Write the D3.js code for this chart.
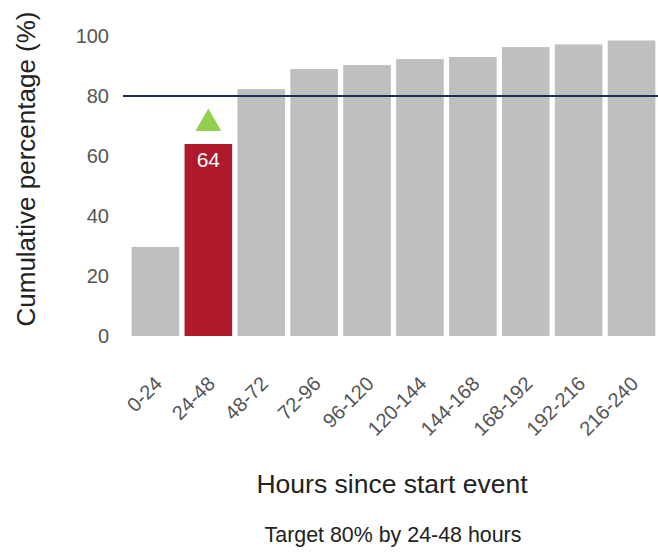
<!DOCTYPE html>
<html>
<head>
<meta charset="utf-8">
<script src="https://cdn.jsdelivr.net/npm/d3@7"></script>
<style>
body{margin:0;background:#fff;font-family:"Liberation Sans",Arial,sans-serif;}
</style>
</head>
<body>
<div id="chart"></div>
<script>
var categories = ["0-24","24-48","48-72","72-96","96-120","120-144","144-168","168-192","192-216","216-240"];
var values = [29.7,64,82.3,89,90.3,92.3,93,96.3,97.2,98.5];
var yTicks = [0,20,40,60,80,100];
var target = 80;
var targetCategory = "24-48";
var footerText = "Target 80% by 24-48 hours";

var width = 658, height = 558;
var svg = d3.select("#chart")
    .append("svg")
    .attr("width",width)
    .attr("height",height);

var xScale = d3.scaleBand()
    .domain(categories)
    .range([129,658])
    .paddingInner(0.1)
    .paddingOuter(0.05);

var yScale = d3.scaleLinear()
    .domain([0,100])
    .range([336,36]);

// y axis, labels only
var yAxis = d3.axisLeft(yScale).tickValues(yTicks).tickSize(0).tickPadding(0);
var gy = svg.append("g")
    .attr("transform","translate(109,0)")
    .call(yAxis);
gy.select(".domain").remove();
gy.selectAll("text")
    .attr("fill","#555")
    .attr("font-size",20)
    .attr("font-family","Liberation Sans, Arial, sans-serif");

svg.append("text")
    .attr("transform","translate(35,169) rotate(-90)")
    .attr("text-anchor","middle")
    .attr("font-size",26)
    .attr("fill","#222")
    .text("Cumulative percentage (%)");

// bars
svg.append("g")
    .selectAll("rect")
    .data(categories)
    .enter()
    .append("rect")
    .attr("x",function(d){return xScale(d);})
    .attr("y",function(d,i){return yScale(values[i]);})
    .attr("width",xScale.bandwidth())
    .attr("height",function(d,i){return yScale(0)-yScale(values[i]);})
    .attr("fill",function(d){return d == targetCategory ? "#ae1a2c" : "#bfbfbf";});

// value label in the highlighted bar
var ti = categories.indexOf(targetCategory);
var tcx = xScale(targetCategory) + xScale.bandwidth()/2;
svg.append("text")
    .attr("x",tcx)
    .attr("y",yScale(values[ti]) + 23)
    .attr("text-anchor","middle")
    .attr("font-size",21)
    .attr("fill","#fff")
    .text(values[ti]);

// green up triangle above it
svg.append("path")
    .attr("d",d3.symbol().type(d3.symbolTriangle).size(290))
    .attr("transform","translate("+tcx+","+(yScale(values[ti])-20.5)+")")
    .attr("fill","#92d050");

// target line
svg.append("line")
    .attr("x1",123)
    .attr("x2",width)
    .attr("y1",yScale(target))
    .attr("y2",yScale(target))
    .attr("stroke","#1f2b5e")
    .attr("stroke-width",2);

// x axis labels, rotated
var xAxis = d3.axisBottom(xScale).tickSize(0).tickPadding(0);
var gx = svg.append("g")
    .call(xAxis);
gx.select(".domain").remove();
gx.selectAll("text")
    .attr("fill","#555")
    .attr("font-size",20)
    .attr("font-family","Liberation Sans, Arial, sans-serif")
    .attr("text-anchor","end")
    .attr("x",0)
    .attr("y",0)
    .attr("dy",0)
    .attr("transform","translate(8,385) rotate(-45)");

svg.append("text")
    .attr("x",392)
    .attr("y",493)
    .attr("text-anchor","middle")
    .attr("font-size",26.5)
    .attr("fill","#222")
    .text("Hours since start event");

svg.append("text")
    .attr("x",393)
    .attr("y",542)
    .attr("text-anchor","middle")
    .attr("font-size",21.4)
    .attr("fill","#222")
    .text(footerText);
</script>
</body>
</html>
